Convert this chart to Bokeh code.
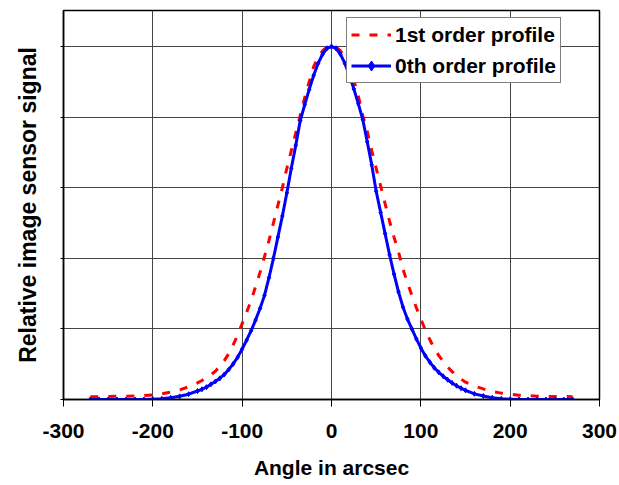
from bokeh.plotting import figure
from bokeh.models import Range1d, FixedTicker, Legend, LegendItem
from bokeh.embed import file_html
from bokeh.resources import INLINE

# Angle samples (arcsec)
angle = ([-270, -260, -250, -240, -230, -220, -210, -200, -190, -180, -170, -160]
         + [-150, -145, -140, -135, -130, -125, -120, -115, -110, -105,
            -100, -95, -90, -85, -80, -75, -70, -65, -60, -55,
            -50, -45, -40, -35, -30, -25, -20, -15, -10, -5, 0,
            5, 10, 15, 20, 25, 30, 35, 40, 45, 50,
            55, 60, 65, 70, 75, 80, 85, 90, 95, 100,
            105, 110, 115, 120, 125, 130, 135, 140, 145, 150]
         + [160, 170, 180, 190, 200, 210, 220, 230, 240, 250, 260, 270])

# Relative signal, 1st order profile
first_order = ([0.008, 0.008, 0.0085, 0.009, 0.0095, 0.010, 0.011, 0.013, 0.016, 0.021, 0.027, 0.036]
               + [0.047, 0.054, 0.062, 0.070, 0.080, 0.094, 0.110, 0.130, 0.155, 0.183,
                  0.215, 0.247, 0.28, 0.32, 0.36, 0.405, 0.45, 0.50, 0.55, 0.60,
                  0.655, 0.705, 0.755, 0.805, 0.855, 0.90, 0.943, 0.97, 0.988, 0.998, 1.0,
                  0.998, 0.988, 0.97, 0.945, 0.905, 0.86, 0.805, 0.76, 0.705, 0.655,
                  0.605, 0.555, 0.505, 0.46, 0.418, 0.37, 0.33, 0.295, 0.26, 0.228,
                  0.197, 0.17, 0.145, 0.125, 0.108, 0.092, 0.079, 0.068, 0.058, 0.049]
               + [0.038, 0.03, 0.023, 0.018, 0.015, 0.012, 0.011, 0.0095, 0.0085, 0.0085, 0.0085, 0.008])

# Relative signal, 0th order profile
zeroth_order = ([0.0, 0.0, 0.0, 0.0, 0.0, 0.0, 0.0, 0.001, 0.002, 0.005, 0.009, 0.015]
                + [0.024, 0.029, 0.035, 0.043, 0.051, 0.060, 0.071, 0.085, 0.101, 0.120,
                   0.143, 0.168, 0.195, 0.225, 0.258, 0.295, 0.345, 0.40, 0.46, 0.52,
                   0.585, 0.655, 0.72, 0.79, 0.835, 0.878, 0.918, 0.952, 0.978, 0.995, 1.0,
                   0.995, 0.978, 0.952, 0.918, 0.88, 0.838, 0.793, 0.73, 0.665, 0.59,
                   0.53, 0.47, 0.41, 0.355, 0.305, 0.262, 0.228, 0.2, 0.172, 0.146,
                   0.124, 0.106, 0.09, 0.077, 0.066, 0.056, 0.047, 0.039, 0.032, 0.026]
                + [0.016, 0.010, 0.005, 0.002, 0.001, 0.0, 0.0, 0.0, 0.0, 0.0, 0.0, 0.0])

x_ticks = [-300, -200, -100, 0, 100, 200, 300]
x_tick_labels = ["-300", "-200", "-100", "0", "100", "200", "300"]
y_ticks = [0.0, 0.2, 0.4, 0.6, 0.8, 1.0]

FONT = "Liberation Sans"

p = figure(width=619, height=485, output_backend="svg", toolbar_location=None,
           x_range=Range1d(-300, 300), y_range=Range1d(0, 1.102),
           min_border_left=63, min_border_right=20, min_border_top=10,
           min_border_bottom=86)
p.background_fill_color = "white"
p.border_fill_color = "white"
p.outline_line_color = "black"
p.outline_line_width = 1.5

# grid
for g in (p.xgrid, p.ygrid):
    g.grid_line_color = "#444444"
    g.grid_line_width = 1
p.xgrid.ticker = FixedTicker(ticks=x_ticks)
p.ygrid.ticker = FixedTicker(ticks=y_ticks)

# x axis
xa = p.xaxis[0]
xa.ticker = FixedTicker(ticks=x_ticks)
xa.major_label_overrides = {t: s for t, s in zip(x_ticks, x_tick_labels)}
xa.major_label_text_font = FONT
xa.major_label_text_font_style = "bold"
xa.major_label_text_font_size = "21px"
xa.major_label_text_color = "black"
xa.major_label_standoff = 17
xa.major_tick_out = 7
xa.major_tick_in = 0
xa.minor_tick_out = 0
xa.minor_tick_in = 0
xa.axis_line_color = "black"
xa.axis_line_width = 1.5
xa.major_tick_line_color = "black"
xa.axis_label = "Angle in arcsec"
xa.axis_label_text_font = FONT
xa.axis_label_text_font_style = "bold"
xa.axis_label_text_font_size = "21px"
xa.axis_label_text_color = "black"
xa.axis_label_standoff = 15

# y axis: tick marks only, labels left blank
ya = p.yaxis[0]
ya.ticker = FixedTicker(ticks=y_ticks)
ya.major_label_overrides = {t: "" for t in y_ticks}
ya.major_label_text_font = FONT
ya.major_label_standoff = 0
ya.major_tick_out = 3
ya.major_tick_in = 0
ya.minor_tick_out = 0
ya.minor_tick_in = 0
ya.axis_line_color = "black"
ya.axis_line_width = 1.5
ya.major_tick_line_color = "black"
ya.axis_label = "Relative image sensor signal"
ya.axis_label_text_font = FONT
ya.axis_label_text_font_style = "bold"
ya.axis_label_text_font_size = "23px"
ya.axis_label_text_color = "black"
ya.axis_label_standoff = 20

# curves
r1 = p.line(angle, first_order, line_color="#FF0000", line_width=3, line_dash="8 10")
r0 = p.line(angle, zeroth_order, line_color="#0000FF", line_width=3)
m0 = p.scatter(angle, zeroth_order, marker="diamond", size=5,
               fill_color="#0000FF", line_color="#0000FF")

legend = Legend(items=[LegendItem(label="1st order profile", renderers=[r1]),
                       LegendItem(label="0th order profile", renderers=[r0, m0])],
                location=(283, 316))
legend.label_text_font = FONT
legend.label_text_font_style = "bold"
legend.label_text_font_size = "21px"
legend.label_text_color = "black"
legend.border_line_color = "black"
legend.border_line_width = 1.5
legend.background_fill_alpha = 1.0
legend.padding = 4
legend.spacing = 6
legend.margin = 0
legend.glyph_width = 40
legend.glyph_height = 25
legend.label_height = 25
legend.label_standoff = 4
p.add_layout(legend)

open("out.html", "w").write(file_html(p, INLINE))
